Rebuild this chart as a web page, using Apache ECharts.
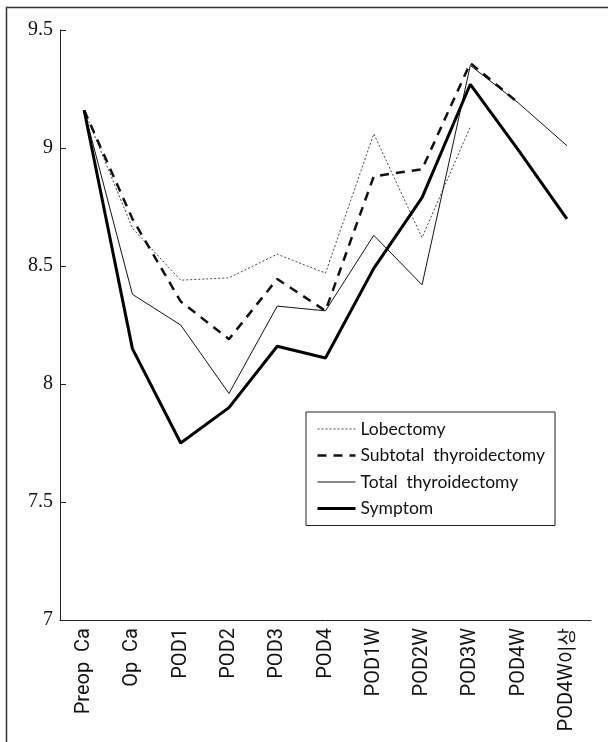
<!DOCTYPE html>
<html>
<head>
<meta charset="utf-8">
<script src="https://cdn.jsdelivr.net/npm/echarts@6/dist/echarts.min.js"></script>
<style>
  html, body { margin: 0; padding: 0; background: #fff; }
  #main { width: 608px; height: 742px; }
</style>
</head>
<body>
<div id="main"></div>
<script>
var categories = ['Preop  Ca', 'Op  Ca', 'POD1', 'POD2', 'POD3', 'POD4',
  'POD1W', 'POD2W', 'POD3W', 'POD4W', 'POD4W이상'];

var lobectomy = [9.16, 8.66, 8.44, 8.45, 8.55, 8.47, 9.06, 8.62, 9.09, null, null];
var subtotal = [9.16, 8.70, 8.35, 8.19, 8.445, 8.31, 8.88, 8.91, 9.36, 9.19, null];
var total = [9.16, 8.38, 8.25, 7.96, 8.33, 8.31, 8.63, 8.42, 9.35, 9.19, 9.01];
var symptom = [9.16, 8.15, 7.75, 7.90, 8.16, 8.11, 8.49, 8.79, 9.27, 8.99, 8.70];

var chart = echarts.init(document.getElementById('main'), null, { renderer: 'canvas' });

// line looks for each series
var looks = {
  'Lobectomy': { width: 1, type: [2, 2], color: '#444' },
  'Subtotal  thyroidectomy': { width: 2.5, type: [9, 7], color: '#111' },
  'Total  thyroidectomy': { width: 1, type: 'solid', color: '#111' },
  'Symptom': { width: 3, type: 'solid', color: '#000' }
};

function lineSeries(name, data) {
  var l = looks[name];
  return {
    name: name,
    type: 'line',
    data: data,
    symbol: 'none',
    connectNulls: false,
    lineStyle: { width: l.width, type: l.type, color: l.color },
    itemStyle: { color: l.color }
  };
}

function legendItem(name) {
  var l = looks[name];
  return { name: name, lineStyle: { width: l.width, type: l.type, color: l.color } };
}

var labelFont = 'Roboto, "DejaVu Sans Condensed", sans-serif';

var option = {
  backgroundColor: '#fff',
  animation: false,
  graphic: [{
    type: 'rect',
    shape: { x: 6.5, y: 7.5, width: 700, height: 800 },
    style: { fill: 'none', stroke: '#333', lineWidth: 1.5 },
    silent: true
  }],
  grid: { left: 60, right: 17, top: 30, bottom: 122, outerBoundsMode: 'none', containLabel: false },
  legend: {
    orient: 'vertical',
    left: 306,
    top: 412,
    padding: [8, 10, 8, 10],
    itemWidth: 38,
    itemHeight: 14,
    itemGap: 8.5,
    borderColor: '#222',
    borderWidth: 1,
    itemStyle: { opacity: 0 },
    textStyle: { fontFamily: 'Lato, "Open Sans", sans-serif', fontSize: 17.5, color: '#111' },
    data: ['Lobectomy', 'Subtotal  thyroidectomy', 'Total  thyroidectomy', 'Symptom'].map(legendItem)
  },
  xAxis: {
    type: 'category',
    data: categories,
    boundaryGap: true,
    axisLine: { lineStyle: { color: '#222', width: 1 } },
    axisTick: { inside: true, length: 6, lineStyle: { color: '#222' } },
    axisLabel: {
      rotate: 90,
      margin: 8,
      fontSize: 20,
      color: '#111',
      fontFamily: labelFont,
      formatter: function (v) {
        var m = v.match(/^([\x00-\x7f]*)(.*)$/);
        return m[2] ? '{a|' + m[1] + '}{k|' + m[2] + '}' : v;
      },
      rich: {
        a: { fontSize: 20, fontFamily: labelFont, color: '#111' },
        k: { fontSize: 19, fontFamily: '"Noto Sans CJK KR", sans-serif', color: '#111' }
      }
    },
    splitLine: { show: false }
  },
  yAxis: {
    type: 'value',
    min: 7,
    max: 9.5,
    interval: 0.5,
    axisLine: { show: true, lineStyle: { color: '#222', width: 1 } },
    axisTick: { show: true, inside: true, length: 6, lineStyle: { color: '#222' } },
    axisLabel: {
      margin: 7,
      fontSize: 20,
      color: '#111',
      fontFamily: '"Liberation Serif", "DejaVu Serif", serif'
    },
    splitLine: { show: false }
  },
  series: [
    lineSeries('Lobectomy', lobectomy),
    lineSeries('Subtotal  thyroidectomy', subtotal),
    lineSeries('Total  thyroidectomy', total),
    lineSeries('Symptom', symptom)
  ]
};

chart.setOption(option);
</script>
</body>
</html>
